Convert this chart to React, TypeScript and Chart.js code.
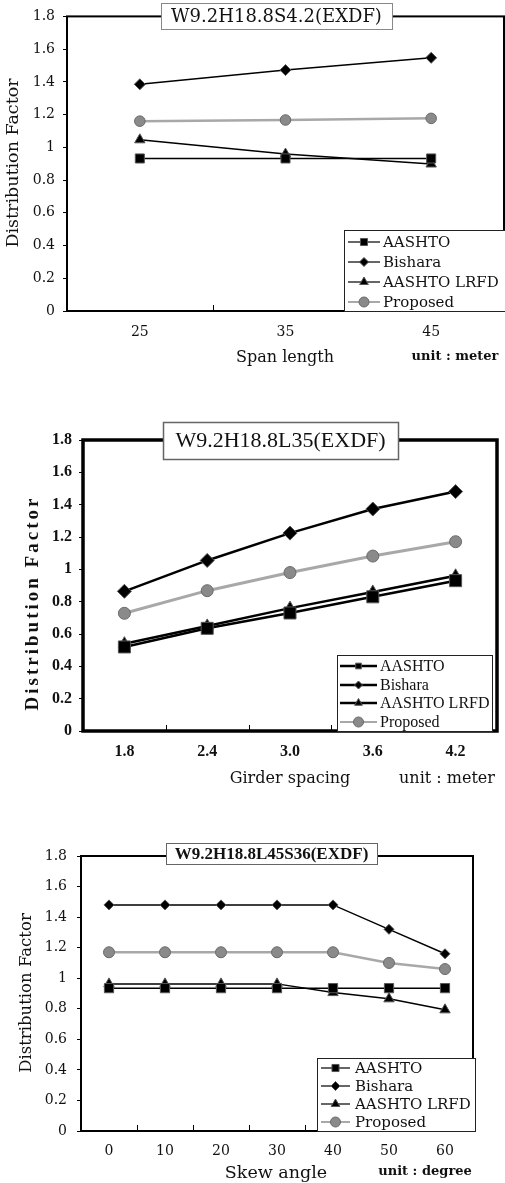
import React, { useEffect, useRef } from 'react';
import { Chart, registerables } from 'chart.js';
import { drawPoint } from 'chart.js/helpers';

Chart.register(...registerables);

const seriesNames = ['AASHTO', 'Bishara', 'AASHTO LRFD', 'Proposed'];

// Chart 1: span length
const spanLabels = ['25', '35', '45'];
const spanAASHTO = [0.932, 0.932, 0.932];
const spanBishara = [1.385, 1.472, 1.547];
const spanLRFD = [1.046, 0.959, 0.898];
const spanProposed = [1.16, 1.167, 1.177];

// Chart 2: girder spacing
const spacingLabels = ['1.8', '2.4', '3.0', '3.6', '4.2'];
const spacingAASHTO = [0.52, 0.635, 0.73, 0.83, 0.93];
const spacingBishara = [0.864, 1.055, 1.224, 1.373, 1.481];
const spacingLRFD = [0.54, 0.65, 0.76, 0.86, 0.96];
const spacingProposed = [0.728, 0.868, 0.98, 1.082, 1.171];

// Chart 3: skew angle
const skewLabels = ['0', '10', '20', '30', '40', '50', '60'];
const skewAASHTO = [0.935, 0.935, 0.935, 0.935, 0.935, 0.935, 0.935];
const skewBishara = [1.48, 1.48, 1.48, 1.48, 1.48, 1.32, 1.16];
const skewLRFD = [0.963, 0.963, 0.963, 0.963, 0.906, 0.865, 0.793];
const skewProposed = [1.17, 1.17, 1.17, 1.17, 1.17, 1.1, 1.06];

const yMin = 0;
const yMax = 1.8;
const yStep = 0.2;

const decorPlugin = {
  id: 'decor',
  beforeDatasetsDraw(chart: any, _args: any, opts: any) {
    const { ctx, chartArea: a } = chart;
    ctx.save();
    ctx.strokeStyle = '#000';
    ctx.lineWidth = opts.frameWidth;
    ctx.strokeRect(a.left, a.top, a.right - a.left, a.bottom - a.top);
    const xs = chart.scales.x;
    const n = chart.data.labels.length;
    ctx.lineWidth = 1;
    for (let i = 1; i < n; i++) {
      const p = Math.round((xs.getPixelForTick(i - 1) + xs.getPixelForTick(i)) / 2) + 0.5;
      ctx.beginPath();
      ctx.moveTo(p, a.bottom);
      ctx.lineTo(p, a.bottom - 6);
      ctx.stroke();
    }
    ctx.restore();
  },
  afterDatasetsDraw(chart: any, _args: any, opts: any) {
    const ctx = chart.ctx;
    ctx.save();
    // legend
    const L = opts.legend;
    ctx.fillStyle = '#fff';
    ctx.fillRect(L.x, L.y, L.w, L.h);
    ctx.strokeStyle = '#222';
    ctx.lineWidth = 1;
    ctx.strokeRect(L.x + 0.5, L.y + 0.5, L.w, L.h);
    chart.data.datasets.forEach((ds: any, i: number) => {
      const y = L.rowY[i];
      ctx.strokeStyle = ds.borderColor;
      ctx.lineWidth = L.lineW[i];
      ctx.beginPath();
      ctx.moveTo(L.lineX0, y);
      ctx.lineTo(L.lineX1, y);
      ctx.stroke();
      ctx.fillStyle = ds.pointBackgroundColor;
      ctx.strokeStyle = ds.pointBorderColor;
      ctx.lineWidth = ds.pointBorderWidth;
      drawPoint(ctx, { pointStyle: ds.pointStyle, radius: L.markerR[i], borderWidth: ds.pointBorderWidth, rotation: 0 } as any, (L.lineX0 + L.lineX1) / 2, y);
      ctx.fillStyle = '#111';
      ctx.font = L.font;
      ctx.textAlign = 'left';
      ctx.textBaseline = 'middle';
      ctx.fillText(ds.label, L.textX, y + 1);
    });
    // title box
    const T = opts.title;
    ctx.fillStyle = '#fff';
    ctx.fillRect(T.x, T.y, T.w, T.h);
    ctx.strokeStyle = T.border;
    ctx.lineWidth = T.bw;
    ctx.strokeRect(T.x + 0.5, T.y + 0.5, T.w, T.h);
    ctx.fillStyle = '#111';
    ctx.font = T.font;
    ctx.textAlign = 'center';
    ctx.textBaseline = 'middle';
    ctx.fillText(T.text, T.x + T.w / 2, T.y + T.h / 2 + 1);
    // axis titles
    opts.texts.forEach((t: any) => {
      ctx.save();
      ctx.translate(t.x, t.y);
      if (t.rot) ctx.rotate(t.rot);
      ctx.font = t.font;
      (ctx as any).letterSpacing = t.ls || '0px';
      ctx.fillStyle = '#111';
      ctx.textAlign = 'center';
      ctx.textBaseline = 'middle';
      ctx.fillText(t.text, 0, 0);
      ctx.restore();
    });
    ctx.restore();
  },
};

function makeDatasets(values: number[][], st: any) {
  const styles = ['rect', 'rectRot', 'triangle', 'circle'];
  return values.map((v, i) => ({
    label: seriesNames[i],
    data: v,
    borderColor: i === 3 ? '#a8a8a8' : '#000',
    borderWidth: st.lineW[i],
    pointStyle: styles[i],
    pointRadius: st.pointR[i],
    pointBackgroundColor: i === 3 ? '#8a8a8a' : '#000',
    pointBorderColor: i === 3 ? '#6a6a6a' : '#555',
    pointBorderWidth: 1,
    tension: 0,
    fill: false,
  }));
}

function makeConfig(spec: any): any {
  return {
    type: 'line',
    data: { labels: spec.labels, datasets: makeDatasets(spec.values, spec) },
    plugins: [decorPlugin],
    options: {
      responsive: false,
      animation: false,
      devicePixelRatio: 1,
      layout: { autoPadding: false, padding: { left: 0, right: spec.padRight, top: spec.padTop, bottom: 0 } },
      plugins: {
        legend: { display: false },
        title: { display: false },
        tooltip: { enabled: false },
        decor: spec.decor,
      },
      scales: {
        x: {
          type: 'category',
          offset: true,
          grid: { display: false, drawTicks: false },
          border: { display: false },
          ticks: { font: spec.tickFont, color: '#111', padding: spec.xPad, maxRotation: 0, autoSkip: false },
          afterFit: (s: any) => { s.height = spec.xH; s.paddingLeft = 0; s.paddingRight = 0; },
        },
        y: {
          min: yMin,
          max: yMax,
          grid: { drawOnChartArea: false, drawTicks: true, tickLength: 4, color: '#000' },
          border: { display: false },
          ticks: {
            stepSize: yStep,
            font: spec.tickFont,
            color: '#111',
            padding: spec.yPad,
            callback: (v: number) => (Math.round(v * 10) / 10).toString(),
          },
          afterFit: (s: any) => { s.width = spec.yW; },
        },
      },
    },
  };
}

const DV = "'DejaVu Serif'";
const LS = "'Liberation Serif'";

const spec1 = {
  labels: spanLabels,
  values: [spanAASHTO, spanBishara, spanLRFD, spanProposed],
  lineW: [1.5, 1.5, 1.5, 2.5],
  pointR: [6.4, 5.5, 6, 5.3],
  padRight: 1, padTop: 15, yW: 67, xH: 69, xPad: 13, yPad: 8,
  tickFont: { family: DV, size: 14 },
  decor: {
    frameWidth: 2,
    legend: { x: 344, y: 230, w: 161, h: 81, rowY: [242, 262, 282, 302], lineX0: 348, lineX1: 380, textX: 383, markerR: [5, 4.5, 5, 5], lineW: [1.2, 1.2, 1.2, 2], font: `15px ${DV}` },
    title: { x: 161, y: 3, w: 231, h: 26, border: '#888', bw: 1, text: 'W9.2H18.8S4.2(EXDF)', font: `18px ${DV}` },
    texts: [
      { text: 'Distribution Factor', x: 13, y: 163, rot: -Math.PI / 2, font: `17.5px ${DV}` },
      { text: 'Span length', x: 285, y: 358, font: `16px ${DV}` },
      { text: 'unit : meter', x: 455, y: 357, font: `bold 13px ${DV}` },
    ],
  },
};

const spec2 = {
  labels: spacingLabels,
  values: [spacingAASHTO, spacingBishara, spacingLRFD, spacingProposed],
  lineW: [2.5, 2.5, 2.5, 3],
  pointR: [8.5, 7, 7, 6],
  padRight: 8, padTop: 40, yW: 83, xH: 69, xPad: 11, yPad: 7,
  tickFont: { family: LS, size: 16, weight: 'bold' },
  decor: {
    frameWidth: 3.5,
    legend: { x: 337, y: 255, w: 155, h: 76, rowY: [266, 285, 303, 322], lineX0: 340, lineX1: 377, textX: 380, markerR: [4, 4, 4.5, 5], lineW: [2.5, 2.5, 2.5, 2], font: `16px ${LS}` },
    title: { x: 163, y: 22, w: 235, h: 37, border: '#666', bw: 1.5, text: 'W9.2H18.8L35(EXDF)', font: `22px ${LS}` },
    texts: [
      { text: 'Distribution Factor', x: 33, y: 203, rot: -Math.PI / 2, font: `bold 19px ${LS}`, ls: '3px' },
      { text: 'Girder spacing', x: 290, y: 379, font: `16px ${DV}` },
      { text: 'unit : meter', x: 447, y: 379, font: `16px ${DV}` },
    ],
  },
};

const spec3 = {
  labels: skewLabels,
  values: [skewAASHTO, skewBishara, skewLRFD, skewProposed],
  lineW: [1.5, 1.5, 1.5, 2.5],
  pointR: [6.5, 5, 6, 5.5],
  padRight: 32, padTop: 36, yW: 81, xH: 52, xPad: 12, yPad: 10,
  tickFont: { family: DV, size: 14 },
  decor: {
    frameWidth: 2,
    legend: { x: 317, y: 238, w: 158, h: 73, rowY: [248, 266, 284, 302], lineX0: 321, lineX1: 350, textX: 355, markerR: [5, 4.5, 5, 5], lineW: [1.2, 1.2, 1.2, 2], font: `15px ${DV}` },
    title: { x: 166, y: 23, w: 211, h: 21, border: '#666', bw: 1, text: 'W9.2H18.8L45S36(EXDF)', font: `bold 17px ${LS}` },
    texts: [
      { text: 'Distribution Factor', x: 27, y: 173, rot: -Math.PI / 2, font: `16.5px ${DV}` },
      { text: 'Skew angle', x: 276, y: 353, font: `17.5px ${DV}` },
      { text: 'unit : degree', x: 425, y: 352, font: `bold 13px ${DV}` },
    ],
  },
};

function ChartBox({ spec, top, height }: { spec: any; top: number; height: number }) {
  const ref = useRef<HTMLCanvasElement | null>(null);
  useEffect(() => {
    if (!ref.current) return;
    const c = new Chart(ref.current, makeConfig(spec));
    return () => c.destroy();
  }, []);
  return (
    <canvas
      ref={ref}
      width={505}
      height={height}
      style={{ position: 'absolute', left: 0, top, width: 505, height }}
    />
  );
}

export default function App() {
  return (
    <div style={{ position: 'absolute', left: 0, top: 0, width: 505, height: 1183, background: '#fff', overflow: 'hidden' }}>
      <ChartBox spec={spec1} top={0} height={380} />
      <ChartBox spec={spec2} top={400} height={400} />
      <ChartBox spec={spec3} top={820} height={363} />
    </div>
  );
}
